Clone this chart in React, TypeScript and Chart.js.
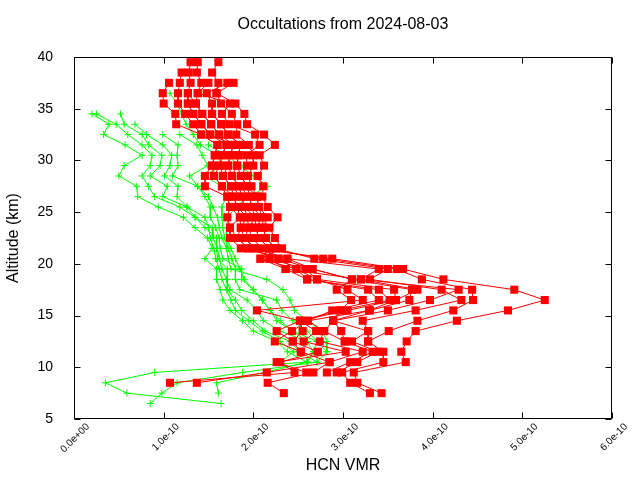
import React, { useEffect, useRef } from 'react';
import { Chart, registerables } from 'chart.js';

Chart.register(...registerables);

// Altitude levels (km)
const redAlt = [39.5, 38.5, 37.5, 36.5, 35.5, 34.5, 33.5, 32.5, 31.5, 30.5, 29.5, 28.5, 27.5, 26.5, 25.5, 24.5, 23.5, 22.5, 21.5, 20.5, 19.5, 18.5, 17.5, 16.5, 15.5, 14.5, 13.5, 12.5, 11.5, 10.5, 9.5, 8.5, 7.5];
const greenAlt = [36.5, 35.5, 34.5, 33.5, 32.5, 31.5, 30.5, 29.5, 28.5, 27.5, 26.5, 25.5, 24.5, 23.5, 22.5, 21.5, 20.5, 19.5, 18.5, 17.5, 16.5, 15.5, 14.5, 13.5, 12.5, 11.5, 10.5, 9.5, 8.5, 7.5, 6.5];

// HCN VMR profiles, in units of 1e-10
const redA = [1.30, 1.28, 1.30, 1.27, 1.27, 1.33, 1.42, 1.52, 1.70, 1.65, 1.63, 1.56, 1.65, 1.78, 1.82, 1.85, 1.86, 1.90, 2.02, 2.88, 3.67, 4.12, 4.91, 5.25, 4.84, 4.27, 3.81, 3.71, 3.65, 3.70, 3.12, 3.16, 3.43];
const redB = [1.38, 1.37, 1.42, 1.38, 1.36, 1.43, 1.53, 1.62, 1.78, 1.74, 1.72, 1.66, 1.75, 1.87, 1.90, 1.93, 1.95, 1.98, 2.10, 2.78, 3.60, 3.88, 4.44, 4.45, 4.23, 3.83, 3.51, 3.28, 3.45, 3.45, 2.99, 3.08, 3.30];
const redC = [1.61, 1.54, 1.61, 1.59, 1.64, 1.76, 1.82, 1.81, 1.95, 2.00, 2.00, 1.94, 1.98, 2.04, 2.06, 2.10, 2.11, 2.14, 2.25, 2.68, 3.50, 3.30, 4.10, 4.32, 3.81, 3.22, 3.28, 3.10, 3.39, 3.16, 2.93, null, null];
const redD = [null, 1.20, 1.18, 1.16, 1.16, 1.24, 1.33, 1.42, 1.60, 1.57, 1.54, 1.46, 1.46, 1.71, 1.74, 1.71, 1.74, 1.74, 1.86, 2.38, 3.40, 3.20, 4.29, 3.97, 3.50, 2.89, 2.98, 3.02, 3.33, 3.08, 2.82, null, null];
const redE = [null, null, 1.06, 0.99, 1.00, 1.13, 1.14, 1.42, 1.60, 1.57, 1.54, 1.56, 1.65, 1.71, 1.74, 1.85, 1.74, 1.82, 1.94, 2.28, 2.66, 3.10, 3.77, 3.74, 3.30, 2.61, 2.79, 2.74, 3.22, 2.85, 2.67, 2.16, 2.34];
const redF = [null, null, 1.71, 1.48, 1.54, 1.54, 1.64, 1.72, 1.86, 1.83, 1.82, 1.76, 1.84, 1.96, 1.98, 2.02, 2.03, 2.06, 2.18, 2.18, 2.58, 2.71, 3.57, 3.59, 3.05, 2.52, 2.70, 2.56, 3.03, 2.26, 2.59, null, null];
const redG = [null, null, 1.78, 1.59, 1.80, 1.90, 1.93, 2.12, 2.24, 2.07, 2.12, 2.05, 2.11, 2.10, 2.16, 2.27, 2.18, 2.24, 2.32, 2.08, 2.48, 2.60, 3.40, 3.52, 2.97, 2.52, 2.55, 2.44, 2.72, 2.30, 2.46, 1.07, null];
const redH = [null, null, 1.50, 1.38, 1.74, 1.65, 1.73, 2.02, 2.07, 1.92, 1.93, 1.86, 1.93, 2.04, 2.06, 2.16, 2.11, 2.14, 2.25, 2.18, 2.36, 2.60, 3.28, 3.40, 2.88, 2.61, 2.43, 2.24, 2.53, 2.85, 2.15, 1.37, null];
const redI = [null, null, null, 1.27, 1.36, 1.43, 1.53, 1.62, 1.70, 1.65, 1.63, 1.66, 1.75, 1.78, 1.82, 1.93, 1.86, 1.82, 1.94, 2.28, 2.48, 2.71, 3.05, 3.22, 2.04, 2.52, 2.26, 2.44, 2.53, null, null, null, null];
const redJ = [null, null, null, null, 1.27, 1.33, 1.42, 1.52, 1.78, 1.74, 1.72, 1.76, 1.84, 1.87, 1.90, 2.02, 1.95, 1.90, 2.02, 2.38, 2.66, 3.10, 2.93, 3.09, 2.97, 2.89, 3.28, 3.28, null, null, null, null, null];
const redK = [null, null, null, null, null, 1.54, 1.64, 1.72, 1.86, 1.83, 1.82, 1.86, 1.93, 1.96, 1.98, 2.10, 2.03, 2.06, 2.18, 2.08, 2.36, 3.20, 3.83, 3.59, 3.29, 2.89, 2.79, 3.02, null, null, null, null, null];

const greenA = [null, null, 0.20, 0.39, 0.33, 0.57, 0.76, 0.56, 0.50, 0.70, 0.71, 0.94, 1.22, 1.35, 1.49, 1.54, 1.46, 1.59, 1.59, 1.63, 1.66, 1.74, 1.88, 2.00, 2.26, 2.38, 2.60, 0.90, 0.35, 0.59, 1.64];
const greenB = [null, null, 0.25, 0.47, 0.60, 0.76, 0.87, 0.85, 0.76, 0.83, 0.90, 1.18, 1.35, 1.46, 1.59, 1.59, 1.60, 1.71, 1.71, 1.71, 1.80, 1.87, 2.00, 2.13, 2.41, 2.52, 2.71, 1.88, 1.15, 0.98, 0.85];
const greenC = [null, null, 0.52, 0.56, 0.76, 0.83, 0.98, 0.96, 0.85, 1.04, 0.99, 1.26, 1.35, 1.54, 1.55, 1.60, 1.62, 1.65, 1.70, 1.74, 1.93, 2.04, 2.11, 2.30, 2.60, 2.67, 2.60, 2.13, 1.59, 1.61, null];
const greenD = [null, null, null, 0.68, 0.81, 0.99, 1.09, 1.07, 1.01, 1.16, 1.15, 1.26, 1.46, 1.50, 1.52, 1.56, 1.58, 1.62, 1.65, 1.70, 1.75, 1.80, 1.95, 2.10, 2.30, 2.45, 2.30, null, null, null, null];
const greenE = [null, null, null, null, 0.99, 1.16, 1.15, 1.16, 1.10, 1.38, 1.46, 1.52, 1.52, 1.58, 1.62, 1.63, 1.66, 1.87, 1.87, 2.00, 2.10, 2.19, 2.26, 2.44, 2.71, 2.82, null, null, null, null, null];
const greenF = [null, null, null, null, 1.18, 1.37, 1.43, 1.49, 1.29, 1.38, 1.50, 1.55, 1.60, 1.62, 1.65, 1.70, 1.72, 1.75, 2.15, 2.33, 2.41, 2.46, 2.60, 2.77, 2.82, 2.82, 2.71, null, null, null, null];
const greenG = [1.07, 1.15, 1.20, 1.25, 1.33, 1.41, 1.60, 1.65, 1.45, 1.65, 1.70, 1.65, 1.65, 1.66, 1.68, 1.72, 1.76, 1.80, 1.80, 1.85, 2.26, 2.32, 2.44, 2.60, 2.71, 2.67, 2.60, null, null, null, null];
const greenH = [null, null, null, null, null, 1.50, 1.70, 1.85, 2.00, 2.16, 1.95, 1.80, 1.72, 1.70, 1.70, 1.75, 1.80, 1.85, 1.90, 2.00, 2.10, 2.19, 2.30, 2.44, 2.60, 2.52, null, null, null, null, null];

const redProfiles = [redA, redB, redC, redD, redE, redF, redG, redH, redI, redJ, redK];
const greenProfiles = [greenA, greenB, greenC, greenD, greenE, greenF, greenG, greenH];

const UNIT = 1e-10;
const xTicks = [0, 1, 2, 3, 4, 5, 6];
const yTicks = [5, 10, 15, 20, 25, 30, 35, 40];
const TITLE = 'Occultations from 2024-08-03';
const FONT = "'Liberation Sans', Arial, sans-serif";

function toPoints(alts: number[], vals: (number | null)[]) {
  const pts: { x: number; y: number }[] = [];
  alts.forEach((a, i) => {
    const v = vals[i];
    if (v !== null && v !== undefined) pts.push({ x: v * UNIT, y: a });
  });
  return pts;
}

function fmtExp(v: number) {
  const s = Number(v).toExponential(1);
  return s.replace(/e([+-])(\d)$/, 'e$10$2');
}

const framePlugin = {
  id: 'gnuFrame',
  afterDraw(chart: any) {
    const { ctx, chartArea: a, scales } = chart;
    const L = Math.round(a.left) + 0.5;
    const R = Math.round(a.right) - 0.5;
    const T = Math.round(a.top) + 0.5;
    const B = Math.round(a.bottom) - 0.5;
    const len = 6;
    ctx.save();
    ctx.strokeStyle = '#000';
    ctx.lineWidth = 1;
    ctx.beginPath();
    ctx.rect(L, T, R - L, B - T);
    xTicks.forEach((t) => {
      const px = Math.round(scales.x.getPixelForValue(t * UNIT)) + 0.5;
      ctx.moveTo(px, B);
      ctx.lineTo(px, B - len);
      ctx.moveTo(px, T);
      ctx.lineTo(px, T + len);
    });
    yTicks.forEach((t) => {
      const py = Math.round(scales.y.getPixelForValue(t)) + 0.5;
      ctx.moveTo(L, py);
      ctx.lineTo(L + len, py);
      ctx.moveTo(R, py);
      ctx.lineTo(R - len, py);
    });
    ctx.stroke();
    ctx.restore();
  },
};

export default function App() {
  const ref = useRef<HTMLCanvasElement | null>(null);

  useEffect(() => {
    if (!ref.current) return;
    const datasets: any[] = [];
    redProfiles.forEach((p, i) => {
      datasets.push({
        label: 'red' + i,
        data: toPoints(redAlt, p),
        showLine: true,
        borderColor: '#ff0000',
        backgroundColor: '#ff0000',
        borderWidth: 1,
        pointStyle: 'rect',
        pointRadius: 5.7,
        pointBorderWidth: 0,
        pointBackgroundColor: '#ff0000',
        pointBorderColor: '#ff0000',
      });
    });
    greenProfiles.forEach((p, i) => {
      datasets.push({
        label: 'green' + i,
        data: toPoints(greenAlt, p),
        showLine: true,
        borderColor: '#00ff00',
        backgroundColor: '#00ff00',
        borderWidth: 1,
        pointStyle: 'cross',
        pointRadius: 3.5,
        pointBorderWidth: 1,
        pointBorderColor: '#00ff00',
      });
    });

    const chart = new Chart(ref.current, {
      type: 'scatter',
      data: { datasets },
      options: {
        animation: false,
        responsive: false,
        devicePixelRatio: 1,
        events: [],
        layout: { padding: { left: 0, right: 28, top: 0, bottom: 0 } },
        plugins: {
          legend: { display: false },
          tooltip: { enabled: false },
          title: {
            display: true,
            fullSize: false,
            text: TITLE,
            color: '#000',
            font: { family: FONT, size: 16, weight: 'normal' },
            padding: { top: 15, bottom: 22.8 },
          },
        },
        scales: {
          x: {
            type: 'linear',
            min: 0,
            max: 6 * UNIT,
            grid: { display: false },
            border: { display: false },
            afterFit: (s: any) => {
              s.height = 61;
            },
            afterBuildTicks: (s: any) => {
              s.ticks = xTicks.map((t) => ({ value: t * UNIT }));
            },
            ticks: {
              color: '#000',
              font: { family: FONT, size: 10 },
              minRotation: 45,
              maxRotation: 45,
              autoSkip: false,
              padding: -6,
              labelOffset: 14,
              callback: (v: any) => fmtExp(Number(v)),
            },
            title: {
              display: true,
              text: 'HCN VMR',
              color: '#000',
              font: { family: FONT, size: 16 },
              padding: { top: 0, bottom: 5 },
            },
          },
          y: {
            type: 'linear',
            min: 5,
            max: 40,
            grid: { display: false },
            border: { display: false },
            afterFit: (s: any) => {
              s.width = 74;
            },
            afterBuildTicks: (s: any) => {
              s.ticks = yTicks.map((t) => ({ value: t }));
            },
            ticks: {
              color: '#000',
              font: { family: FONT, size: 14 },
              padding: 13,
              callback: (v: any) => String(v),
            },
            title: {
              display: true,
              text: 'Altitude (km)',
              color: '#000',
              font: { family: FONT, size: 16 },
              padding: { top: 4, bottom: 0 },
            },
          },
        },
      },
      plugins: [framePlugin],
    });
    return () => chart.destroy();
  }, []);

  return (
    <div style={{ position: 'fixed', left: 0, top: 0, width: 640, height: 480, background: '#fff' }}>
      <canvas ref={ref} width={640} height={480} style={{ display: 'block', width: 640, height: 480 }} />
    </div>
  );
}
